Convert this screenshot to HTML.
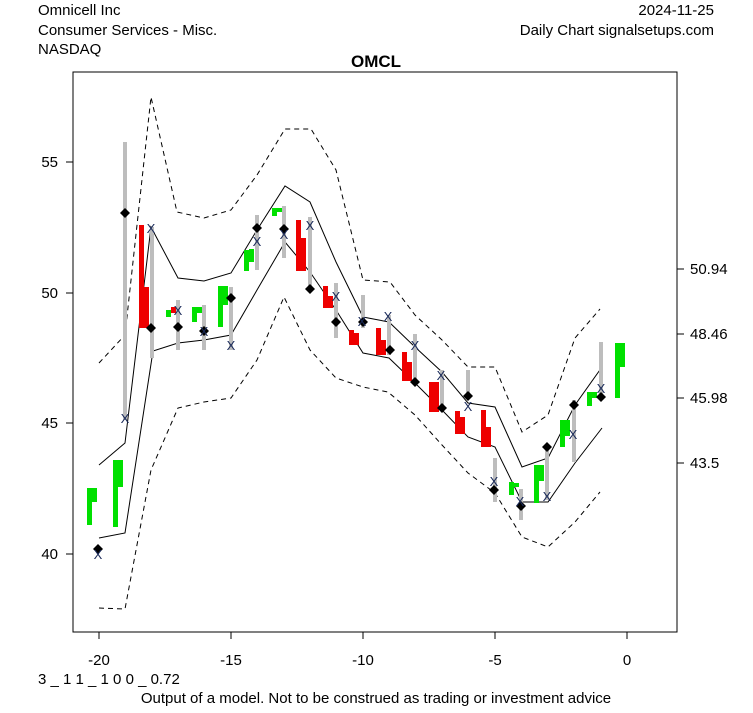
<!DOCTYPE html>
<html><head><style>body{margin:0;background:#fff}svg text{font-family:"Liberation Sans",Arial,sans-serif}</style></head>
<body>
<svg width="753" height="708" xmlns="http://www.w3.org/2000/svg">
<rect width="753" height="708" fill="#fff"/>
<text x="38" y="15" font-size="15">Omnicell Inc</text>
<text x="38" y="35" font-size="15">Consumer Services - Misc.</text>
<text x="38" y="54" font-size="15">NASDAQ</text>
<text x="714" y="15" font-size="15" text-anchor="end">2024-11-25</text>
<text x="714" y="35" font-size="15" text-anchor="end">Daily Chart signalsetups.com</text>
<text x="376" y="67" font-size="17" font-weight="bold" text-anchor="middle">OMCL</text>
<rect x="73" y="72" width="604" height="560" fill="none" stroke="#000"/>
<g stroke="#000">
<line x1="73" y1="162" x2="66" y2="162"/><line x1="73" y1="293" x2="66" y2="293"/><line x1="73" y1="423" x2="66" y2="423"/><line x1="73" y1="554" x2="66" y2="554"/>
<line x1="99" y1="632" x2="99" y2="639"/><line x1="231" y1="632" x2="231" y2="639"/><line x1="363" y1="632" x2="363" y2="639"/><line x1="495" y1="632" x2="495" y2="639"/><line x1="627" y1="632" x2="627" y2="639"/>
<line x1="677" y1="269" x2="684" y2="269"/><line x1="677" y1="334" x2="684" y2="334"/><line x1="677" y1="398" x2="684" y2="398"/><line x1="677" y1="463" x2="684" y2="463"/>
</g>
<g font-size="15" text-anchor="end">
<text x="58" y="167">55</text><text x="58" y="298">50</text><text x="58" y="428">45</text><text x="58" y="559">40</text>
</g>
<g font-size="15" text-anchor="middle">
<text x="99" y="665">-20</text><text x="231" y="665">-15</text><text x="363" y="665">-10</text><text x="495" y="665">-5</text><text x="627" y="665">0</text>
</g>
<g font-size="15">
<text x="690" y="274">50.94</text><text x="690" y="339">48.46</text><text x="690" y="403">45.98</text><text x="690" y="468">43.5</text>
</g>
<text x="38" y="684" font-size="15">3 _ 1 1 _ 1 0 0 _ 0.72</text>
<text x="376" y="703" font-size="15" text-anchor="middle">Output of a model. Not to be construed as trading or investment advice</text>

<g fill="none" stroke="#000" stroke-width="1">
<polyline points="99,465 125,443 151,227 178,278 204,281 231,273 257,230 285,186 310,202 336,262 363,317 389,322 415,347 442,372 468,403 495,407 522,467 548,458 575,405 602,367"/>
<polyline points="99,538 125,533 153,351 178,343 204,340 231,335 257,290 285,242 310,272 336,310 363,353 389,358 415,383 442,410 468,437 495,447 522,502 548,502 575,463 602,428"/>
<polyline stroke-dasharray="5,4" points="99,363 125,335 151,97 177,212 204,218 231,210 257,175 285,129 311,129 336,170 363,280 390,282 415,315 442,340 468,367 495,367 522,432 548,415 575,338 600,309"/>
<polyline stroke-dasharray="5,4" points="99,608 125,609 151,470 178,408 204,402 231,398 257,360 284,297 310,350 336,378 363,387 388,392 415,415 442,445 468,473 495,493 522,537 548,547 575,522 600,492"/>
</g>

<g stroke="#bdbdbd" stroke-width="4">
<line x1="125" y1="142" x2="125" y2="420"/><line x1="152" y1="227" x2="152" y2="358"/><line x1="178" y1="300" x2="178" y2="350"/><line x1="204" y1="305" x2="204" y2="350"/><line x1="231" y1="287" x2="231" y2="350"/><line x1="257" y1="215" x2="257" y2="270"/><line x1="284" y1="206" x2="284" y2="258"/><line x1="310" y1="217" x2="310" y2="290"/><line x1="336" y1="283" x2="336" y2="338"/><line x1="363" y1="295" x2="363" y2="328"/><line x1="389" y1="315" x2="389" y2="355"/><line x1="415" y1="334" x2="415" y2="385"/><line x1="442" y1="370" x2="442" y2="406"/><line x1="468" y1="370" x2="468" y2="398"/><line x1="495" y1="458" x2="495" y2="502"/><line x1="521" y1="489" x2="521" y2="520"/><line x1="547" y1="445" x2="547" y2="500"/><line x1="574" y1="400" x2="574" y2="462"/><line x1="601" y1="342" x2="601" y2="400"/>
</g>

<g fill="#00e000">
<rect x="87" y="488" width="5" height="37"/><rect x="92" y="488" width="5" height="14"/>
<rect x="113" y="460" width="5" height="67"/><rect x="118" y="460" width="5" height="27"/>
<rect x="166" y="310" width="5" height="7"/>
<rect x="192" y="307" width="5" height="15"/><rect x="197" y="307" width="5" height="6"/>
<rect x="218" y="286" width="5" height="41"/><rect x="223" y="286" width="5" height="19"/>
<rect x="244" y="250" width="5" height="21"/><rect x="249" y="249" width="5" height="13"/>
<rect x="272" y="208" width="5" height="8"/><rect x="277" y="208" width="5" height="4"/>
<rect x="509" y="482" width="5" height="13"/><rect x="514" y="483" width="5" height="4"/>
<rect x="534" y="465" width="5" height="38"/><rect x="539" y="465" width="5" height="16"/>
<rect x="560" y="420" width="5" height="27"/><rect x="565" y="420" width="5" height="16"/>
<rect x="587" y="392" width="5" height="14"/><rect x="592" y="392" width="5" height="6"/>
<rect x="615" y="343" width="5" height="55"/><rect x="620" y="343" width="5" height="24"/>
</g>
<g fill="#ee0000">
<rect x="139" y="225" width="5" height="103"/><rect x="144" y="287" width="5" height="41"/>
<rect x="171" y="307" width="5" height="6"/>
<rect x="296" y="220" width="5" height="51"/><rect x="301" y="238" width="5" height="33"/>
<rect x="323" y="286" width="5" height="22"/><rect x="328" y="296" width="5" height="12"/>
<rect x="349" y="330" width="5" height="15"/><rect x="354" y="333" width="5" height="12"/>
<rect x="376" y="328" width="5" height="27"/><rect x="381" y="340" width="5" height="15"/>
<rect x="402" y="352" width="5" height="29"/><rect x="407" y="362" width="5" height="19"/>
<rect x="429" y="382" width="5" height="30"/><rect x="434" y="382" width="5" height="30"/>
<rect x="455" y="411" width="5" height="23"/><rect x="460" y="417" width="5" height="17"/>
<rect x="481" y="410" width="5" height="37"/><rect x="486" y="427" width="5" height="20"/>
</g>

<g fill="#000">
<path d="M98,544l5,5l-5,5l-5,-5z"/><path d="M125,208l5,5l-5,5l-5,-5z"/><path d="M151,323l5,5l-5,5l-5,-5z"/><path d="M178,322l5,5l-5,5l-5,-5z"/><path d="M204,326l5,5l-5,5l-5,-5z"/><path d="M231,293l5,5l-5,5l-5,-5z"/><path d="M257,223l5,5l-5,5l-5,-5z"/><path d="M284,224l5,5l-5,5l-5,-5z"/><path d="M310,284l5,5l-5,5l-5,-5z"/><path d="M336,317l5,5l-5,5l-5,-5z"/><path d="M363,317l5,5l-5,5l-5,-5z"/><path d="M390,345l5,5l-5,5l-5,-5z"/><path d="M415,377l5,5l-5,5l-5,-5z"/><path d="M442,403l5,5l-5,5l-5,-5z"/><path d="M468,391l5,5l-5,5l-5,-5z"/><path d="M494,485l5,5l-5,5l-5,-5z"/><path d="M521,501l5,5l-5,5l-5,-5z"/><path d="M547,442l5,5l-5,5l-5,-5z"/><path d="M574,400l5,5l-5,5l-5,-5z"/><path d="M601,392l5,5l-5,5l-5,-5z"/>
</g>
<g font-size="13" fill="#1a2a5a" text-anchor="middle">
<text x="98" y="559">X</text><text x="125" y="423">X</text><text x="151" y="233">X</text><text x="178" y="315">X</text><text x="204" y="336">X</text><text x="231" y="350">X</text><text x="257" y="246">X</text><text x="284" y="239">X</text><text x="310" y="230">X</text><text x="336" y="301">X</text><text x="362" y="326">X</text><text x="388" y="321">X</text><text x="415" y="350">X</text><text x="441" y="380">X</text><text x="468" y="411">X</text><text x="494" y="486">X</text><text x="520" y="506">X</text><text x="547" y="501">X</text><text x="573" y="439">X</text><text x="601" y="393">X</text>
</g>
</svg>
</body></html>
